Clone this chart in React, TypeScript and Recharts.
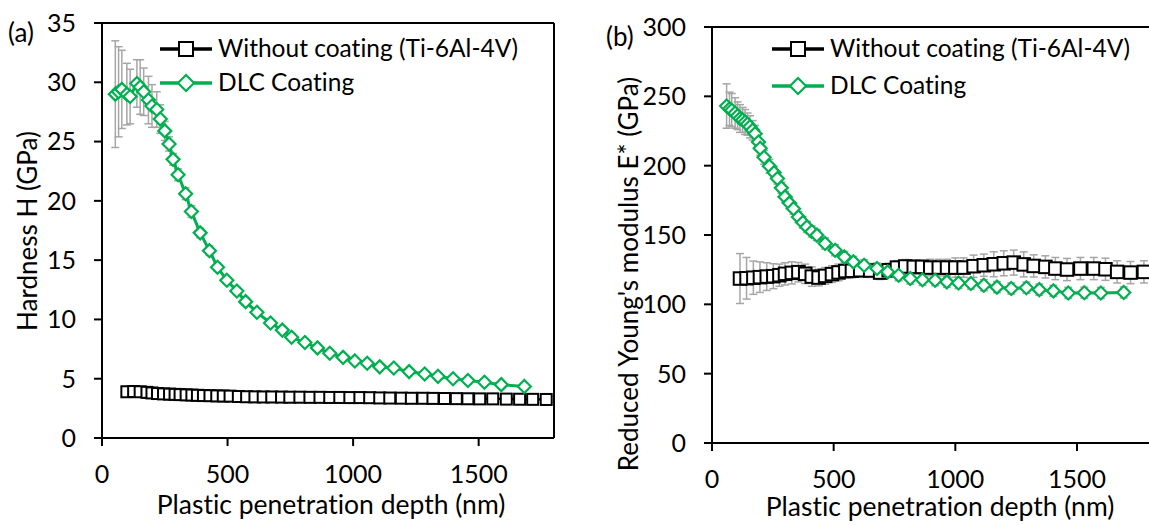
import React from 'react';
import { LineChart, Line, XAxis, YAxis, ErrorBar, ReferenceLine } from 'recharts';

// depth (nm) shared ticks
const xTicks = [0, 500, 1000, 1500];
const hardTicks = [0, 5, 10, 15, 20, 25, 30, 35];
const modTicks = [0, 50, 100, 150, 200, 250, 300];

// (a) hardness, DLC coating
const hardDlcX = [53, 66, 79, 99, 112, 139, 152, 166, 185, 199, 218, 232, 250, 267, 283, 303, 333, 356, 391, 428, 460, 497, 537, 572, 617, 671, 718, 755, 808, 858, 907, 960, 1007, 1056, 1106, 1162, 1223, 1285, 1338, 1398, 1457, 1523, 1590, 1682];
const hardDlcY = [29.0, 29.2, 29.4, 29.0, 28.8, 29.9, 29.6, 29.2, 28.5, 28.0, 27.7, 26.9, 25.9, 24.8, 23.5, 22.2, 20.6, 19.1, 17.3, 15.8, 14.4, 13.3, 12.4, 11.5, 10.6, 9.7, 9.1, 8.5, 8.05, 7.6, 7.15, 6.8, 6.5, 6.3, 6.0, 5.9, 5.6, 5.4, 5.2, 5.0, 4.85, 4.7, 4.5, 4.35];
const hardDlcErr = [4.5, 3.8, 3.3, 2.6, 2.3, 2.0, 2.3, 2.0, 2.0, 1.8, 1.5, 1.2, 0.8, 0.6, 0.5, 0.5, 0.5, 0.5, 0.4, 0.4, 0.35, 0.3, 0.3, 0.3, 0.25, 0.25, 0.2, 0.2, 0.2, 0.2, 0.2, 0.2, 0.2, 0.2, 0.2, 0.2, 0.2, 0.2, 0.2, 0.2, 0.2, 0.2, 0.2, 0.2];

// (a) hardness, Ti-6Al-4V
const hardTiX = [99, 126, 152, 179, 199, 221, 245, 269, 291, 311, 335, 358, 380, 404, 430, 457, 483, 510, 543, 576, 609, 642, 676, 715, 748, 788, 828, 868, 907, 947, 987, 1027, 1066, 1106, 1146, 1192, 1232, 1278, 1318, 1364, 1411, 1457, 1504, 1556, 1610, 1663, 1715, 1769];
const hardTiY = [3.9, 3.92, 3.9, 3.85, 3.8, 3.75, 3.72, 3.7, 3.68, 3.66, 3.64, 3.62, 3.6, 3.58, 3.57, 3.55, 3.54, 3.53, 3.5, 3.48, 3.47, 3.46, 3.46, 3.45, 3.44, 3.44, 3.43, 3.43, 3.42, 3.42, 3.41, 3.41, 3.4, 3.38, 3.37, 3.36, 3.35, 3.35, 3.34, 3.33, 3.32, 3.31, 3.3, 3.3, 3.28, 3.27, 3.26, 3.25];
const hardTiErr = [0.35, 0.4, 0.35, 0.3, 0.25, 0.2, 0.2, 0.2, 0.2, 0.2, 0.15, 0.15, 0.15, 0.15, 0.15, 0.15, 0.15, 0.15, 0.15, 0.15, 0.15, 0.15, 0.15, 0.15, 0.15, 0.15, 0.15, 0.15, 0.15, 0.15, 0.15, 0.15, 0.15, 0.15, 0.15, 0.15, 0.15, 0.15, 0.15, 0.15, 0.15, 0.15, 0.15, 0.15, 0.15, 0.15, 0.15, 0.15];

// (b) reduced modulus, DLC coating
const modDlcX = [60, 72, 81, 95, 105, 115, 126, 136, 146, 156, 167, 177, 191, 198, 214, 236, 255, 269, 285, 300, 318, 335, 355, 373, 390, 410, 431, 465, 506, 544, 581, 625, 678, 722, 767, 815, 865, 917, 965, 1013, 1064, 1117, 1171, 1230, 1292, 1345, 1403, 1464, 1530, 1598, 1692];
const modDlcY = [243, 241, 240, 238, 236, 234, 233, 231.5, 230, 228, 225.5, 223, 217, 212.5, 206, 199.6, 195, 190.7, 184, 177.5, 173, 169, 163, 159, 155.8, 152.5, 149.9, 143.9, 139, 134.2, 130.6, 128.2, 125.8, 123.4, 121, 118.6, 117.7, 117.4, 116.2, 115.4, 115, 113.8, 112.4, 111.4, 112, 110.6, 109.7, 108.2, 108.4, 108.2, 108.6];
const modDlcErr = [16, 12, 12, 11, 10, 10, 9, 9, 8, 8, 7, 6, 6, 5, 5, 5, 4, 4, 4, 4, 4, 4, 4, 4, 4, 4, 4, 4, 4, 4, 4, 4, 4, 4, 4, 4, 4, 4, 4, 4, 4, 4, 4, 4, 4, 4, 4, 4, 4, 4, 4];

// (b) reduced modulus, Ti-6Al-4V
const modTiX = [115, 142, 170, 197, 225, 252, 277, 300, 328, 355, 383, 410, 438, 465, 493, 520, 548, 575, 609, 650, 691, 726, 760, 794, 829, 863, 897, 932, 966, 1000, 1034, 1075, 1117, 1158, 1199, 1240, 1281, 1322, 1370, 1411, 1459, 1514, 1569, 1617, 1665, 1720, 1775];
const modTiY = [118.6, 118.8, 119.2, 119.6, 120, 120.3, 121, 122, 122.7, 123.2, 122, 120, 119.3, 120.5, 121.8, 123, 124, 124.2, 124.6, 124.4, 122.9, 124.6, 126.5, 127.3, 127, 127, 126.5, 126.5, 126.5, 126.5, 126.5, 127.5, 128.2, 128.9, 129.6, 130.1, 128.8, 127.7, 127, 125.8, 125.1, 125.8, 125.8, 125.3, 123.4, 122.9, 123.4];
const modTiErr = [18, 15, 12, 11, 10, 9, 8, 8, 8, 7, 7, 7, 6, 6, 6, 6, 5, 5, 5, 5, 5, 5, 5, 5, 5, 5, 6, 6, 6, 7, 7, 8, 8, 9, 9, 9, 9, 8, 8, 8, 8, 8, 8, 8, 8, 8, 8];

const toRows = (xs: number[], ys: number[], es: number[]) =>
  xs.map((x, i) => ({ x, y: ys[i], err: es[i] }));

const FONT = 'Lato, "Open Sans", sans-serif';
const GREEN = '#00b050';
const ERR = '#a6a6a6';

const squareDot = (size: number) => (props: any) => {
  const { cx, cy, index } = props;
  if (cx == null || cy == null) return <g key={`sq-${index}`} />;
  const h = size / 2;
  return <rect key={`sq-${index}`} x={cx - h} y={cy - h} width={size} height={size} fill="#fff" stroke="#000" strokeWidth={2} />;
};

const diamondDot = (r: number) => (props: any) => {
  const { cx, cy, index } = props;
  if (cx == null || cy == null) return <g key={`dm-${index}`} />;
  return (
    <polygon
      key={`dm-${index}`}
      points={`${cx},${cy - r} ${cx + r},${cy} ${cx},${cy + r} ${cx - r},${cy}`}
      fill="#fff"
      stroke={GREEN}
      strokeWidth={2.2}
    />
  );
};

const tickStyle = { fontSize: 25, fill: '#000', fontFamily: FONT };
const axisLine = { stroke: '#000', strokeWidth: 2 };

interface PanelProps {
  left: number;
  width: number;
  margin: { top: number; right: number; left: number; bottom: number };
  yMax: number;
  yTicks: number[];
  ti: { x: number; y: number; err: number }[];
  dlc: { x: number; y: number; err: number }[];
  squareSize: number;
}

const Panel: React.FC<PanelProps> = ({ left, width, margin, yMax, yTicks, ti, dlc, squareSize }) => (
  <div style={{ position: 'absolute', left, top: 0 }}>
    <LineChart width={width} height={525} margin={margin}>
      <XAxis
        type="number"
        dataKey="x"
        domain={[0, 1800]}
        ticks={xTicks}
        interval={0}
        allowDataOverflow
        height={60}
        tickSize={8}
        tickMargin={19}
        tick={tickStyle}
        axisLine={axisLine}
        tickLine={axisLine}
      />
      <YAxis
        type="number"
        dataKey="y"
        domain={[0, yMax]}
        ticks={yTicks}
        interval={0}
        width={100}
        tickSize={8}
        tickMargin={18}
        tick={tickStyle}
        axisLine={axisLine}
        tickLine={axisLine}
      />
      <ReferenceLine y={yMax} stroke="#000" strokeWidth={2} />
      <ReferenceLine x={1800} stroke="#000" strokeWidth={2} />
      <Line
        data={ti}
        dataKey="y"
        stroke="#000"
        strokeWidth={2.5}
        dot={squareDot(squareSize)}
        activeDot={false}
        isAnimationActive={false}
      >
        <ErrorBar dataKey="err" direction="y" stroke={ERR} strokeWidth={1.5} width={4} isAnimationActive={false} />
      </Line>
      <Line
        data={dlc}
        dataKey="y"
        stroke={GREEN}
        strokeWidth={3}
        dot={diamondDot(6.5)}
        activeDot={false}
        isAnimationActive={false}
      >
        <ErrorBar dataKey="err" direction="y" stroke={ERR} strokeWidth={1.5} width={4} isAnimationActive={false} />
      </Line>
    </LineChart>
  </div>
);

const LegendRows: React.FC<{ x0: number; y1: number; y2: number }> = ({ x0, y1, y2 }) => (
  <g>
    <line x1={x0} y1={y1} x2={x0 + 52} y2={y1} stroke="#000" strokeWidth={3.5} />
    <rect x={x0 + 19} y={y1 - 7} width={14} height={14} fill="#fff" stroke="#000" strokeWidth={2} />
    <text x={x0 + 58} y={y1 + 8} fontSize={24.5}>Without coating (Ti-6Al-4V)</text>
    <line x1={x0} y1={y2} x2={x0 + 52} y2={y2} stroke={GREEN} strokeWidth={3.5} />
    <polygon
      points={`${x0 + 26},${y2 - 8} ${x0 + 34},${y2} ${x0 + 26},${y2 + 8} ${x0 + 18},${y2}`}
      fill="#fff"
      stroke={GREEN}
      strokeWidth={2.2}
    />
    <text x={x0 + 58} y={y2 + 8} fontSize={24.5}>DLC Coating</text>
  </g>
);

export default function App() {
  const hardTi = toRows(hardTiX, hardTiY, hardTiErr);
  const hardDlc = toRows(hardDlcX, hardDlcY, hardDlcErr);
  const modTi = toRows(modTiX, modTiY, modTiErr);
  const modDlc = toRows(modDlcX, modDlcY, modDlcErr);

  return (
    <div style={{ position: 'absolute', left: 0, top: 0, width: 1149, height: 525, overflow: 'hidden', background: '#fff', fontFamily: FONT, fontVariantLigatures: 'none' }}>
      <Panel
        left={0}
        width={575}
        margin={{ top: 23, right: 21, left: 2, bottom: 27 }}
        yMax={35}
        yTicks={hardTicks}
        ti={hardTi}
        dlc={hardDlc}
        squareSize={11}
      />
      <Panel
        left={600}
        width={560}
        margin={{ top: 27, right: 10, left: 12, bottom: 22 }}
        yMax={300}
        yTicks={modTicks}
        ti={modTi}
        dlc={modDlc}
        squareSize={12.5}
      />
      <svg width={1149} height={525} style={{ position: 'absolute', left: 0, top: 0, pointerEvents: 'none', fontFamily: FONT, fontVariantLigatures: 'none' }}>
        <text x={8} y={42} fontSize={26}>(a)</text>
        <text x={606} y={46} fontSize={26}>(b)</text>
        <LegendRows x0={160} y1={49} y2={83} />
        <LegendRows x0={772} y1={49} y2={86} />
        <text x={331} y={514} fontSize={26.5} textAnchor="middle">Plastic penetration depth (nm)</text>
        <text x={940} y={516} fontSize={26.5} textAnchor="middle">Plastic penetration depth (nm)</text>
        <text transform="translate(37,231) rotate(-90)" fontSize={26} textAnchor="middle">Hardness H (GPa)</text>
        <text transform="translate(638,274) rotate(-90)" fontSize={26} textAnchor="middle">Reduced Young's modulus E* (GPa)</text>
      </svg>
    </div>
  );
}
